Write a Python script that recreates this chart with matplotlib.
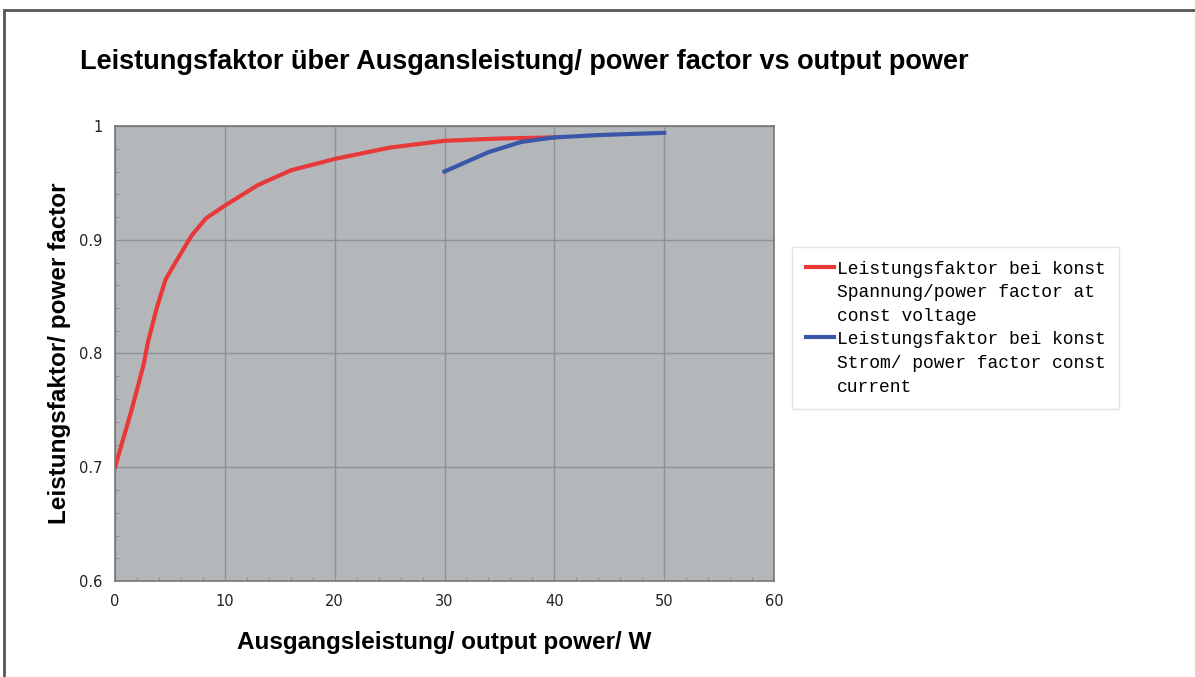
import matplotlib.pyplot as plt
from matplotlib.patches import Rectangle
from matplotlib.ticker import MultipleLocator, FuncFormatter

# red: constant voltage
p_volt = [0, 1.5, 2.6, 3.0, 3.8, 4.6, 5.5, 7.0, 8.3, 10, 13, 16, 20, 25, 30, 35, 40]
pf_volt = [0.700, 0.750, 0.790, 0.810, 0.840, 0.865, 0.880, 0.904, 0.919, 0.930,
           0.948, 0.961, 0.971, 0.981, 0.987, 0.989, 0.990]
# blue: constant current
p_curr = [30, 34, 37, 40, 44, 50]
pf_curr = [0.960, 0.977, 0.986, 0.990, 0.992, 0.994]

lbl_volt = 'Leistungsfaktor bei konst\nSpannung/power factor at\nconst voltage'
lbl_curr = 'Leistungsfaktor bei konst\nStrom/ power factor const\ncurrent'

fig = plt.figure(figsize=(11.95, 6.77), dpi=100)
# outer frame of the chart area
fig.patches.append(Rectangle((4/1195, -0.1), 1.2, 1 - 10/677 + 0.1, transform=fig.transFigure,
                             fill=False, edgecolor='#555555', linewidth=2))

ax = fig.add_axes([115/1195, 1 - 581/677, (774 - 115)/1195, (581 - 126)/677])
ax.set_facecolor('#b4b7ba')
ax.plot(p_volt, pf_volt, color='#e8393a', lw=3, label=lbl_volt)
ax.plot(p_curr, pf_curr, color='#3a56a8', lw=3, label=lbl_curr)

ax.set_xlim(0, 60)
ax.set_ylim(0.6, 1.0)
ax.xaxis.set_major_locator(MultipleLocator(10))
ax.yaxis.set_major_locator(MultipleLocator(0.1))
ax.xaxis.set_minor_locator(MultipleLocator(2))
ax.yaxis.set_minor_locator(MultipleLocator(0.02))
ax.yaxis.set_major_formatter(FuncFormatter(lambda v, p: '%g' % round(v, 2)))
ax.grid(True, which='major', color='#8f9295', lw=1)
ax.tick_params(which='major', length=0, labelsize=10.5, labelcolor='#222222', pad=9)
ax.tick_params(which='minor', direction='in', length=3, color='#888888')
for s in ax.spines.values():
    s.set_color('#777777')
    s.set_linewidth(1.2)

fig.text(80/1195, 1 - 62/677, 'Leistungsfaktor über Ausgansleistung/ power factor vs output power',
         fontsize=19.5, fontweight='bold', family='Liberation Sans', va='center', ha='left')
ax.set_xlabel('Ausgangsleistung/ output power/ W', fontsize=17.5, fontweight='bold',
              family='Liberation Sans', labelpad=16)
ax.set_ylabel('Leistungsfaktor/ power factor', fontsize=17.5, fontweight='bold',
              family='Liberation Sans', labelpad=6)

leg = ax.legend(loc='upper left', bbox_to_anchor=(792/1195, 1 - 247/677), bbox_transform=fig.transFigure,
                prop={'family': 'Liberation Mono', 'size': 13}, frameon=True, fancybox=False,
                borderaxespad=0, handlelength=1.6, handletextpad=0.15, borderpad=0.75,
                labelspacing=0.3)
leg.get_frame().set_edgecolor('#dddddd')
leg.get_frame().set_linewidth(1)
for t in leg.get_texts():
    t.set_linespacing(1.53)
# put each legend line next to the first text line, not the middle one
for col in leg._legend_handle_box.get_children():
    for row in col.get_children():
        row.align = 'top'

fig.savefig('out.png', dpi=100)
